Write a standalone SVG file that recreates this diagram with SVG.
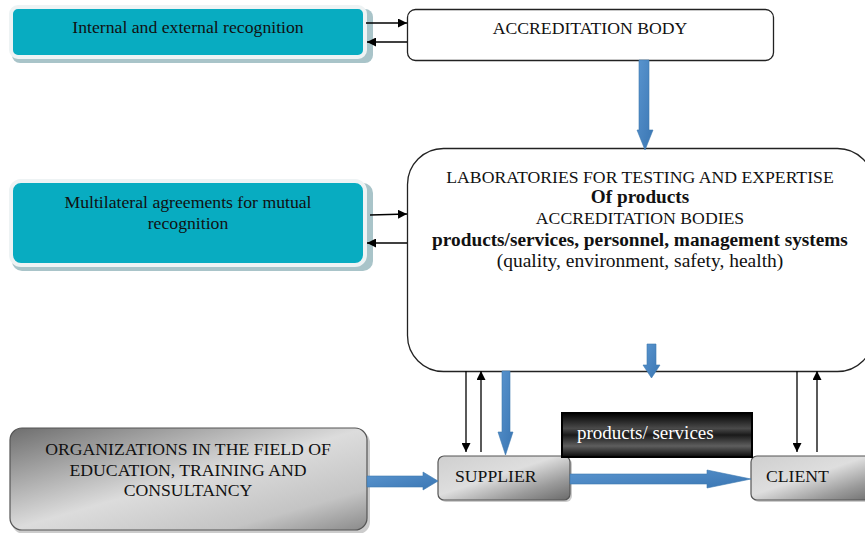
<svg xmlns="http://www.w3.org/2000/svg" width="865" height="533" viewBox="0 0 865 533">
<style>
.t{font-family:"Liberation Serif","Times New Roman",serif;fill:#111;text-anchor:middle;font-size:17.7px}
.b{font-weight:bold}
.teal{fill:#08acc1;stroke:#eef3f4;stroke-width:4}
.tsh{fill:#a9c4c9}
.box{fill:#fff;stroke:#222;stroke-width:1.3}
.ln{stroke:#000;stroke-width:1.3;fill:none;marker-end:url(#ah)}
.blue{fill:url(#bl);stroke:#3c78b0;stroke-width:0.6}
.grey{stroke:#555;stroke-width:1.2}
</style>
<defs>
<marker id="ah" viewBox="0 0 10 10" refX="10" refY="5" markerWidth="9" markerHeight="9" markerUnits="userSpaceOnUse" orient="auto"><path d="M0,0 L10,5 L0,10 z" fill="#000"/></marker>
<linearGradient id="bl" x1="0" y1="0" x2="1" y2="1"><stop offset="0" stop-color="#5a95cf"/><stop offset="1" stop-color="#3a76b3"/></linearGradient>
<linearGradient id="g1" x1="0" y1="0" x2="1" y2="1"><stop offset="0" stop-color="#6e6e6e"/><stop offset="0.5" stop-color="#dcdcdc"/><stop offset="0.8" stop-color="#c4c4c4"/><stop offset="1" stop-color="#8a8a8a"/></linearGradient>
<linearGradient id="g2" x1="0" y1="0" x2="1" y2="1"><stop offset="0" stop-color="#cfcfcf"/><stop offset="0.45" stop-color="#dedede"/><stop offset="0.75" stop-color="#9a9a9a"/><stop offset="1" stop-color="#6a6a6a"/></linearGradient>
<linearGradient id="g3" x1="0" y1="0" x2="0" y2="1"><stop offset="0" stop-color="#000"/><stop offset="0.35" stop-color="#4a4a4a"/><stop offset="0.5" stop-color="#1a1a1a"/><stop offset="0.75" stop-color="#5e5e5e"/><stop offset="1" stop-color="#0a0a0a"/></linearGradient>
</defs>

<g id="internal">
<rect class="tsh" x="12" y="9" width="361" height="54" rx="8"/>
<rect class="teal" x="11" y="7" width="354" height="50" rx="7"/>
<text class="t" x="188" y="33">Internal and external recognition</text>
</g>

<g id="accreditation-body">
<rect class="box" x="407.5" y="9.5" width="366" height="51" rx="8"/>
<text class="t" x="590" y="34">ACCREDITATION BODY</text>
</g>

<g id="multilateral">
<rect class="tsh" x="12" y="183" width="361" height="88" rx="10"/>
<rect class="teal" x="11" y="181" width="354" height="84" rx="10"/>
<text class="t" x="188" y="208">Multilateral agreements for mutual</text>
<text class="t" x="188" y="229">recognition</text>
</g>

<g id="laboratories">
<rect class="box" x="407.5" y="148.5" width="466" height="223" rx="36"/>
<text class="t" x="640" y="183">LABORATORIES FOR TESTING AND EXPERTISE</text>
<text class="t b" x="640" y="203" style="font-size:19.2px">Of products</text>
<text class="t" x="640" y="224">ACCREDITATION BODIES</text>
<text class="t b" x="640" y="246" style="font-size:19.3px">products/services, personnel, management systems</text>
<text class="t" x="640" y="267" style="font-size:19.5px">(quality, environment, safety, health)</text>
</g>

<g id="organizations">
<rect x="12" y="431" width="358" height="103" rx="12" fill="#9a9a9a" opacity="0.5"/>
<rect class="grey" x="10" y="428" width="357" height="102" rx="12" fill="url(#g1)"/>
<text class="t" x="188" y="455">ORGANIZATIONS IN THE FIELD OF</text>
<text class="t" x="188" y="476">EDUCATION, TRAINING AND</text>
<text class="t" x="188" y="496">CONSULTANCY</text>
</g>

<g id="supplier">
<rect x="440" y="458" width="132" height="44" rx="6" fill="#9a9a9a" opacity="0.5"/>
<rect class="grey" x="438" y="456" width="132" height="44" rx="6" fill="url(#g2)"/>
<text class="t" x="455" y="482" style="text-anchor:start">SUPPLIER</text>
</g>

<g id="client">
<rect x="753" y="458" width="130" height="44" rx="6" fill="#9a9a9a" opacity="0.5"/>
<rect class="grey" x="751" y="456" width="130" height="44" rx="6" fill="url(#g2)"/>
<text class="t" x="766" y="482" style="text-anchor:start">CLIENT</text>
</g>

<g id="products-services">
<rect x="562" y="413" width="190" height="44" fill="url(#g3)" stroke="#000" stroke-width="2"/>
<text x="577" y="439" font-size="19" font-family="&quot;Liberation Serif&quot;,&quot;Times New Roman&quot;,serif" fill="#fff">products/ services</text>
</g>

<g id="connectors">
<line class="ln" x1="366" y1="23" x2="407" y2="23"/>
<line class="ln" x1="407" y1="42" x2="367" y2="42"/>
<line class="ln" x1="370" y1="215" x2="407" y2="214"/>
<line class="ln" x1="407" y1="243" x2="367" y2="243"/>
<line class="ln" x1="466" y1="371" x2="466" y2="452"/>
<line class="ln" x1="481" y1="452" x2="481" y2="371"/>
<line class="ln" x1="797" y1="371" x2="797" y2="452"/>
<line class="ln" x1="817" y1="452" x2="817" y2="371"/>
<polygon class="blue" points="639,60 649,60 649,130 653,130 645,150 637,130 639,130"/>
<polygon class="blue" points="647,344 656,344 656,365 660,365 651.5,378 643,365 647,365"/>
<polygon class="blue" points="502,371 510,371 510,432 513,432 505.5,455 498,432 502,432"/>
<polygon class="blue" points="570,474 707,474 707,470 751,479 707,488 707,484 570,484"/>
<polygon class="blue" points="367,476 423,476 423,472 438,481 423,490 423,487 367,487"/>
</g>
</svg>
